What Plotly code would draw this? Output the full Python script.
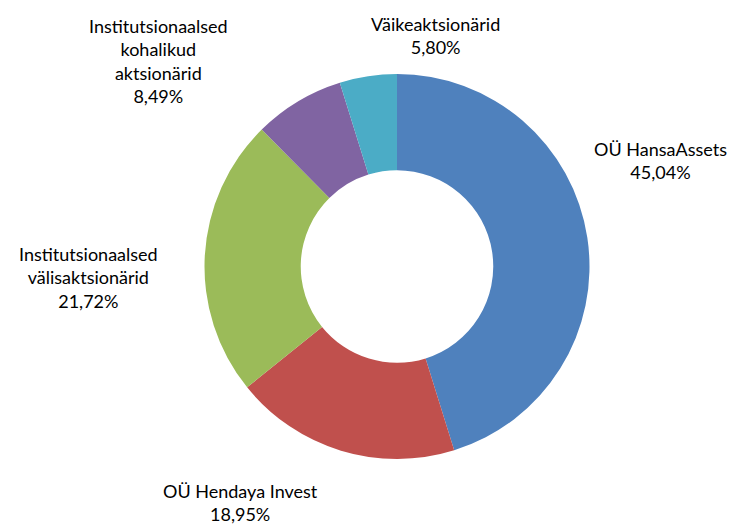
import plotly.graph_objects as go

# Data
categories = ["OÜ HansaAssets", "OÜ Hendaya Invest", "Institutsionaalsed välisaktsionärid",
              "Institutsionaalsed kohalikud aktsionärid", "Väikeaktsionärid"]
label_lines = [["OÜ HansaAssets"], ["OÜ Hendaya Invest"], ["Institutsionaalsed", "välisaktsionärid"],
               ["Institutsionaalsed", "kohalikud", "aktsionärid"], ["Väikeaktsionärid"]]
# percentages printed in the labels
label_pct = [45.04, 18.95, 21.72, 8.49, 5.80]
# slice sizes as drawn in the picture
slice_values = [45.2, 19.0, 23.4, 7.6, 4.8]
colors = ["#4F81BD", "#C0504D", "#9BBB59", "#8064A2", "#4BACC6"]

# label anchor positions (pixels in 737x524 canvas)
label_pos = [(660, 160), (240, 502), (88, 277), (158, 61), (435, 35)]

W, H = 737, 524
cx, cy, r = 397, 266.5, 192.5

fig = go.Figure(go.Pie(
    labels=categories, values=slice_values, sort=False, direction="clockwise", rotation=0,
    hole=0.5, marker=dict(colors=colors, line=dict(width=0)),
    textinfo="none", hoverinfo="label", showlegend=False,
    domain=dict(x=[(cx - r) / W, (cx + r) / W], y=[1 - (cy + r) / H, 1 - (cy - r) / H]),
))

for lines, v, (px, py) in zip(label_lines, label_pct, label_pos):
    txt = "<br>".join(lines + [f"{v:.2f}".replace(".", ",") + "%"])
    fig.add_annotation(x=px / W, y=1 - py / H, xref="paper", yref="paper", text=txt,
                       showarrow=False, xanchor="center", yanchor="middle", align="center",
                       font=dict(family="Lato, Open Sans, sans-serif", size=18, color="#000000"))

fig.update_layout(width=W, height=H, margin=dict(l=0, r=0, t=0, b=0),
                  paper_bgcolor="white", plot_bgcolor="white")
fig.write_html("out.html", config={"displayModeBar": False},
               post_script="document.body.style.margin='0';")
